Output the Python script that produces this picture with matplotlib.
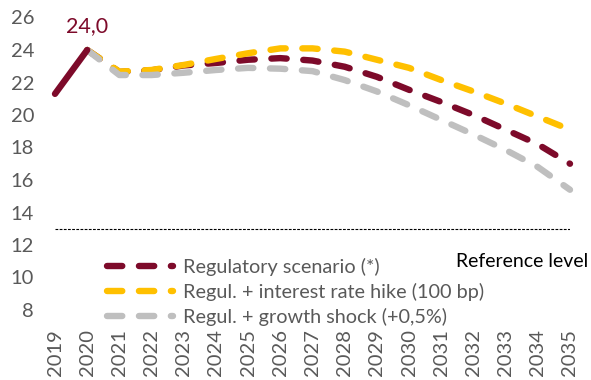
import matplotlib
matplotlib.use("Agg")
import matplotlib.pyplot as plt

plt.rcParams['font.family'] = ['Lato', 'DejaVu Sans']

years = list(range(2019, 2036))
hist_years = [2019, 2020]
hist_values = [21.3, 24.0]

proj_years = list(range(2020, 2036))
regulatory = [24.0, 22.65, 22.75, 23.05, 23.2, 23.4, 23.5, 23.35, 22.97, 22.35,
              21.55, 20.8, 20.0, 19.1, 18.2, 17.0]
rate_hike = [24.0, 22.67, 22.77, 23.08, 23.45, 23.8, 24.1, 24.1, 23.9, 23.4,
             22.9, 22.15, 21.45, 20.7, 19.9, 19.1]
growth_shock = [24.0, 22.46, 22.46, 22.6, 22.77, 22.9, 22.85, 22.7, 22.15, 21.45,
                20.6, 19.7, 18.8, 17.85, 16.8, 15.4]

reference_level = 13.0
peak_label = "24,0"

labels = ["Regulatory scenario (*)",
          "Regul. + interest rate hike (100 bp)",
          "Regul. + growth shock (+0,5%)"]

red = '#7D0A2A'
yellow = '#FFC000'
grey = '#BFBFBF'
text_grey = '#595959'

fig = plt.figure(figsize=(5.91, 3.80), dpi=100)
ax = fig.add_axes([55 / 591, 70 / 380, 515 / 591, 292.5 / 380])

lw = 4.6
dash = (11, 12)
plt.rcParams['lines.scale_dashes'] = False

ax.plot(hist_years, hist_values, color=red, lw=lw, solid_capstyle='round',
        clip_on=False, zorder=4)
l1, = ax.plot(proj_years, regulatory, color=red, lw=lw, dashes=dash,
              dash_capstyle='round', clip_on=False, zorder=2, label=labels[0])
l2, = ax.plot(proj_years, rate_hike, color=yellow, lw=lw, dashes=dash,
              dash_capstyle='round', clip_on=False, zorder=3, label=labels[1])
l3, = ax.plot(proj_years, growth_shock, color=grey, lw=lw, dashes=dash,
              dash_capstyle='round', clip_on=False, zorder=3.5, label=labels[2])

ax.plot([years[0], years[-1]], [reference_level, reference_level], color='black',
        lw=0.8, dashes=(2, 1), zorder=1)
ax.text(years[-1] + 0.58, 11.0, "Reference level", ha='right',
        va='center', fontsize=14, color='black', clip_on=False)

ax.text(2020, 25.5, peak_label, ha='center', va='center', fontsize=15.5, color=red)

ax.set_xlim(years[0], years[-1])
ax.set_ylim(8, 26)
ax.set_yticks(range(8, 27, 2))
ax.set_xticks(years)
ax.set_xticklabels([str(y) for y in years], rotation=90)
ax.tick_params(axis='both', length=0, labelsize=14.5, labelcolor=text_grey)
ax.tick_params(axis='y', pad=15)
ax.tick_params(axis='x', pad=14)
for s in ax.spines.values():
    s.set_visible(False)

leg = ax.legend(handles=[l1, l2, l3], loc='upper left',
                bbox_to_anchor=(107 / 591, 1 - 258 / 380), bbox_transform=fig.transFigure,
                frameon=False, fontsize=14.3, handlelength=3.3, handletextpad=0.55,
                labelspacing=0.35, borderpad=0, borderaxespad=0)
for t in leg.get_texts():
    t.set_color(text_grey)

fig.savefig('out.png', dpi=100)
